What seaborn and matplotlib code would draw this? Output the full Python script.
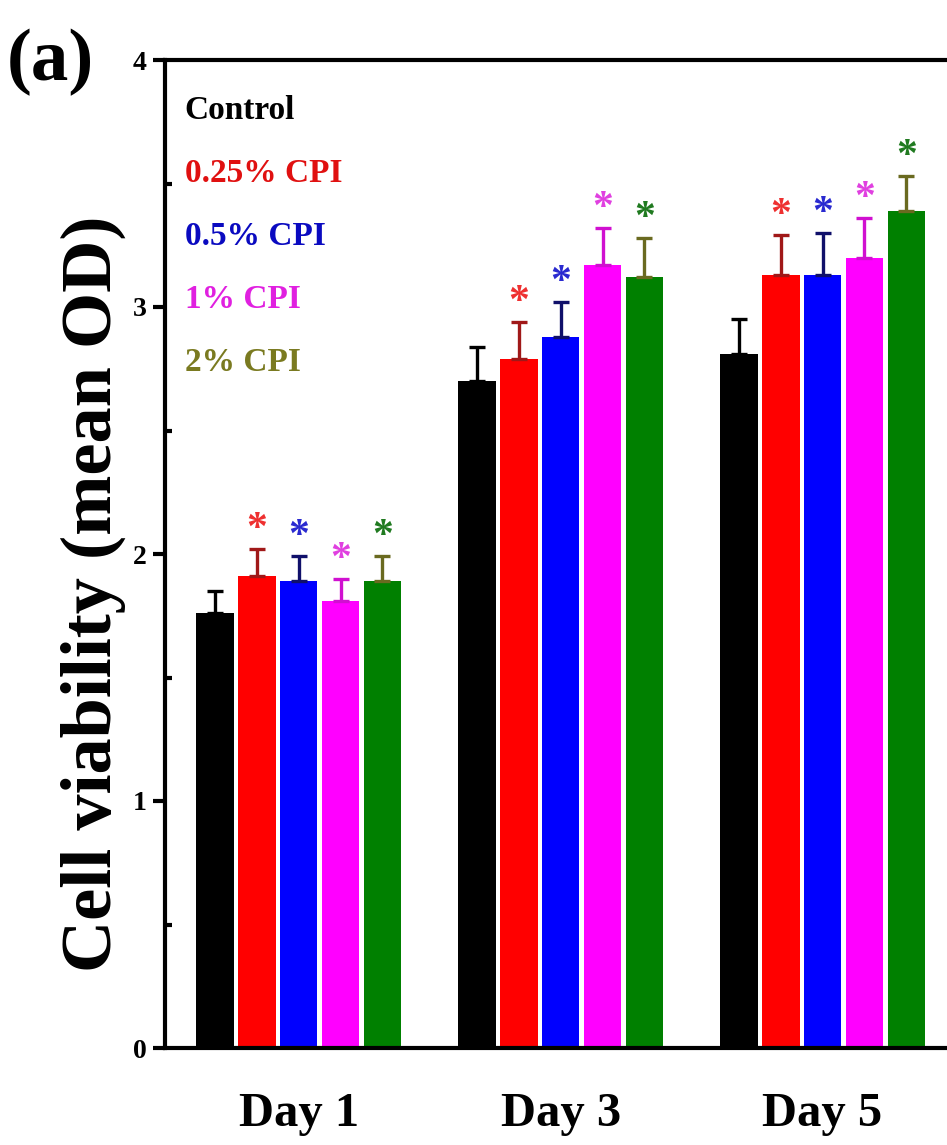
import numpy as np
import pandas as pd
import seaborn as sns
import matplotlib.pyplot as plt
from matplotlib.patches import Patch
from matplotlib.ticker import MultipleLocator

# data
days = ['Day 1', 'Day 3', 'Day 5']
groups = ['Control', '0.25% CPI', '0.5% CPI', '1% CPI', '2% CPI']
control = [1.76, 2.70, 2.81]
cpi_025 = [1.91, 2.79, 3.13]
cpi_05 = [1.89, 2.88, 3.13]
cpi_1 = [1.81, 3.17, 3.20]
cpi_2 = [1.89, 3.12, 3.39]
err_control = [0.09, 0.14, 0.14]
err_025 = [0.11, 0.15, 0.16]
err_05 = [0.10, 0.14, 0.17]
err_1 = [0.09, 0.15, 0.16]
err_2 = [0.10, 0.16, 0.14]
significant = [False, True, True, True, True]

bar_colors = ['#000000', '#ff0000', '#0000ff', '#ff00ff', '#008000']
err_colors = ['#000000', '#a01818', '#10106a', '#d010d0', '#6a6a20']
star_colors = ['#000000', '#ee3030', '#2a2ad0', '#e040e0', '#207a20']
legend_colors = ['#000000', '#e01010', '#0a0ac0', '#e020e0', '#7a7a20']

values = [control, cpi_025, cpi_05, cpi_1, cpi_2]
errors = [err_control, err_025, err_05, err_1, err_2]

df = pd.DataFrame({
    'day': days * len(groups),
    'group': np.repeat(groups, len(days)),
    'od': np.concatenate(values),
})

sns.set_theme(style='ticks')
plt.rcParams['font.family'] = ['Liberation Serif', 'DejaVu Serif']
plt.rcParams['font.weight'] = 'bold'
plt.rcParams['text.color'] = 'black'
plt.rcParams['axes.labelcolor'] = 'black'
plt.rcParams['xtick.color'] = 'black'
plt.rcParams['ytick.color'] = 'black'

fig = plt.figure(figsize=(9.47, 11.45), dpi=100)
ax = fig.add_axes([165 / 947, 97 / 1145, 782 / 947, 988 / 1145])

sns.barplot(data=df, x='day', y='od', hue='group', hue_order=groups,
            palette=bar_colors, saturation=1, width=0.8, gap=0.1, legend=False,
            linewidth=0, errorbar=None, ax=ax)

# one-sided error bars and significance stars
bar_sets = list(ax.containers)
for i, cont in enumerate(bar_sets):
    xs = [p.get_x() + p.get_width() / 2 for p in cont.patches]
    ys = [p.get_height() for p in cont.patches]
    ax.errorbar(xs, ys, yerr=[np.zeros(len(ys)), errors[i]], fmt='none',
                ecolor=err_colors[i], elinewidth=2.4, capsize=5.5, capthick=2.4,
                zorder=3)
    if significant[i]:
        for x, y, e in zip(xs, ys, errors[i]):
            ax.annotate('*', (x, y + e), xytext=(0, 0), textcoords='offset points',
                        ha='center', va='bottom', fontsize=30,
                        color=star_colors[i])

ax.set_ylim(0, 4)
ax.set_xlim(-0.51, 2.475)
ax.yaxis.set_major_locator(MultipleLocator(1))
ax.yaxis.set_minor_locator(MultipleLocator(0.5))
ax.tick_params(axis='y', which='major', direction='out', length=9, width=3,
               labelsize=20, pad=4)
ax.tick_params(axis='y', which='minor', direction='in', length=5, width=3)
ax.tick_params(axis='x', length=0, labelsize=35, pad=32)
for lab in ax.get_xticklabels() + ax.get_yticklabels():
    lab.set_fontweight('bold')

for s in ['left', 'bottom', 'top']:
    ax.spines[s].set_linewidth(3)
    ax.spines[s].set_color('black')
ax.spines['right'].set_visible(False)

ax.set_xlabel('')
ax.set_ylabel('Cell viability (mean OD)', fontsize=52, fontweight='bold')
ax.yaxis.set_label_coords(-0.05, 0.46)

handles = [Patch(facecolor='none', edgecolor='none') for _ in groups]
ax.legend(handles, groups, loc='upper left', bbox_to_anchor=(0.025, 0.965),
          frameon=False, handlelength=0, handletextpad=0, borderaxespad=0,
          borderpad=0, labelspacing=0.96, labelcolor=legend_colors,
          prop={'size': 24, 'weight': 'bold'})

fig.text(50 / 947, 1 - 62 / 1145, '(a)', fontsize=54, fontweight='bold',
         ha='center', va='center')

fig.savefig('out.png', dpi=100)
